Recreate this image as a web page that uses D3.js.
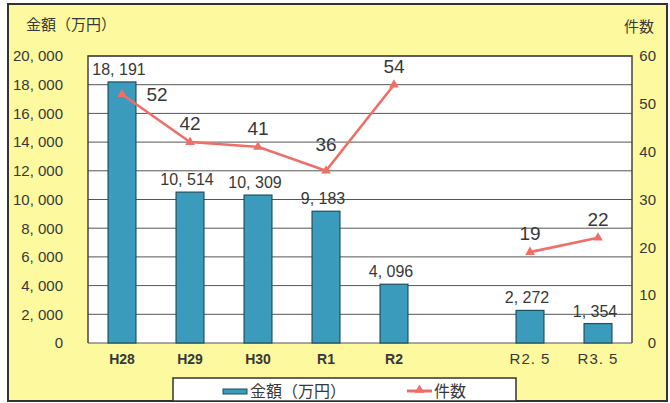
<!DOCTYPE html>
<html>
<head>
<meta charset="utf-8">
<script src="https://cdn.jsdelivr.net/npm/d3@7"></script>
<style>
  body { margin: 0; background: #fff; }
  text { font-family: "Liberation Sans", Arial, sans-serif; fill: #383838; }
  .jp { font-family: "Noto Sans CJK JP", sans-serif; }
</style>
</head>
<body>
<div id="content"></div>
<script>
// data (one empty slot between R2 and R2.5)
const categories = ["H28", "H29", "H30", "R1", "R2", "", "R2. 5", "R3. 5"];
const amounts = [18191, 10514, 10309, 9183, 4096, null, 2272, 1354];   // 金額（万円）
const counts  = [52, 42, 41, 36, 54, null, 19, 22];                     // 件数
const amountTicks = [0, 2000, 4000, 6000, 8000, 10000, 12000, 14000, 16000, 18000, 20000];
const countTicks  = [0, 10, 20, 30, 40, 50, 60];

const rows = categories.map((c, i) => ({ key: i, cat: c, amount: amounts[i], count: counts[i] }));

//////////////////// drawing area
const W = 670, H = 403;
const plot = { left: 88, right: 632, top: 56, bottom: 343 };

const x = d3.scaleBand()
    .domain(rows.map(d => d.key))
    .range([plot.left, plot.right])
    .paddingInner(0.59)
    .paddingOuter(0.295);

const yL = d3.scaleLinear().domain([0, 20000]).range([plot.bottom, plot.top]);
const yR = d3.scaleLinear().domain([0, 60]).range([plot.bottom, plot.top]);

const fmt = v => d3.format(",")(v).replace(/,/g, ", ");

const yellow = "#fdf99e";
const barFill = "#3a9bbd", barStroke = "#1d4f5c";
const lineCol = "#ef6f68";

const svg = d3.select("#content").append("svg")
    .attr("width", W).attr("height", H);

// outer frame
svg.append("rect")
    .attr("x", 8).attr("y", 4).attr("width", 659).attr("height", 397)
    .attr("fill", yellow).attr("stroke", "#333").attr("stroke-width", 2);

// plot background
svg.append("rect")
    .attr("x", plot.left).attr("y", plot.top)
    .attr("width", plot.right - plot.left).attr("height", plot.bottom - plot.top)
    .attr("fill", "#fff");

// grid
svg.append("g").selectAll("line").data(amountTicks).join("line")
    .attr("x1", plot.left).attr("x2", plot.right)
    .attr("y1", d => yL(d)).attr("y2", d => yL(d))
    .attr("stroke", "#555").attr("stroke-width", 1);

// plot border (left, top, right)
svg.append("path")
    .attr("d", `M${plot.left},${plot.bottom}V${plot.top}H${plot.right}V${plot.bottom}`)
    .attr("fill", "none").attr("stroke", "#444").attr("stroke-width", 1.5);

// left axis
const axL = svg.append("g")
    .attr("transform", `translate(${plot.left},0)`)
    .call(d3.axisLeft(yL).tickValues(amountTicks).tickFormat(fmt).tickSize(0).tickPadding(25));
axL.select(".domain").remove();
axL.selectAll("text").attr("font-size", 15).attr("font-family", null).attr("fill", "#383838");

// right axis
const axR = svg.append("g")
    .attr("transform", `translate(${plot.right},0)`)
    .call(d3.axisRight(yR).tickValues(countTicks).tickSize(0).tickPadding(10));
axR.select(".domain").remove();
axR.selectAll("text").attr("font-size", 15).attr("font-family", null).attr("fill", "#383838")
    .attr("text-anchor", "end").attr("dx", 14);

// axis titles
svg.append("text").attr("class", "jp")
    .attr("x", 26).attr("y", 30).attr("font-size", 15)
    .text("金額（万円）");
svg.append("text").attr("class", "jp")
    .attr("x", 624).attr("y", 32).attr("font-size", 15)
    .text("件数");

// category labels (the R2.5 / R3.5 ones are set in a plainer font in the original)
svg.append("g").selectAll("text").data(rows.filter(d => d.cat !== "")).join("text")
    .attr("x", d => x(d.key) + x.bandwidth() / 2)
    .attr("y", 364)
    .attr("text-anchor", "middle")
    .attr("font-size", d => d.cat.includes(".") ? 15 : 14)
    .attr("font-weight", d => d.cat.includes(".") ? "normal" : "bold")
    .attr("letter-spacing", d => d.cat.includes(".") ? 1 : 0)
    .text(d => d.cat);

// bars
const barRows = rows.filter(d => d.amount != null);
svg.append("g").selectAll("rect").data(barRows).join("rect")
    .attr("x", d => x(d.key))
    .attr("y", d => yL(d.amount))
    .attr("width", x.bandwidth())
    .attr("height", d => plot.bottom - yL(d.amount))
    .attr("fill", barFill)
    .attr("stroke", barStroke).attr("stroke-width", 1.2);

svg.append("g").selectAll("text").data(barRows).join("text")
    .attr("x", d => x(d.key) + x.bandwidth() / 2 - 3)
    .attr("y", d => yL(d.amount) - 7)
    .attr("text-anchor", "middle")
    .attr("font-size", 16)
    .text(d => fmt(d.amount));

// line (broken at the empty slot)
const line = d3.line()
    .defined(d => d.count != null)
    .x(d => x(d.key) + x.bandwidth() / 2)
    .y(d => yR(d.count));

svg.append("path")
    .datum(rows)
    .attr("d", line)
    .attr("fill", "none")
    .attr("stroke", lineCol).attr("stroke-width", 2.6);

const lineRows = rows.filter(d => d.count != null);
svg.append("g").selectAll("path").data(lineRows).join("path")
    .attr("transform", d => `translate(${x(d.key) + x.bandwidth() / 2},${yR(d.count)})`)
    .attr("d", d3.symbol(d3.symbolTriangle, 40))
    .attr("fill", lineCol);

svg.append("g").selectAll("text").data(lineRows).join("text")
    .attr("x", (d, i) => x(d.key) + x.bandwidth() / 2 + (i === 0 ? 35 : 0))
    .attr("y", (d, i) => yR(d.count) + (i === 0 ? 7 : (d.count === 36 ? -20 : -12)))
    .attr("text-anchor", "middle")
    .attr("font-size", 19)
    .text(d => d.count);

// legend
const lg = svg.append("g");
lg.append("rect")
    .attr("x", 173).attr("y", 378).attr("width", 343).attr("height", 23)
    .attr("fill", "#fff").attr("stroke", "#333").attr("stroke-width", 1.5);
lg.append("rect")
    .attr("x", 223).attr("y", 389).attr("width", 24).attr("height", 5)
    .attr("fill", barFill).attr("stroke", barStroke);
lg.append("text").attr("class", "jp")
    .attr("x", 250).attr("y", 397).attr("font-size", 16)
    .text("金額（万円）");
lg.append("line")
    .attr("x1", 407).attr("x2", 432).attr("y1", 391).attr("y2", 391)
    .attr("stroke", lineCol).attr("stroke-width", 3);
lg.append("path")
    .attr("transform", "translate(419.5,390)")
    .attr("d", d3.symbol(d3.symbolTriangle, 40))
    .attr("fill", lineCol);
lg.append("text").attr("class", "jp")
    .attr("x", 434).attr("y", 397).attr("font-size", 16)
    .text("件数");
</script>
</body>
</html>
